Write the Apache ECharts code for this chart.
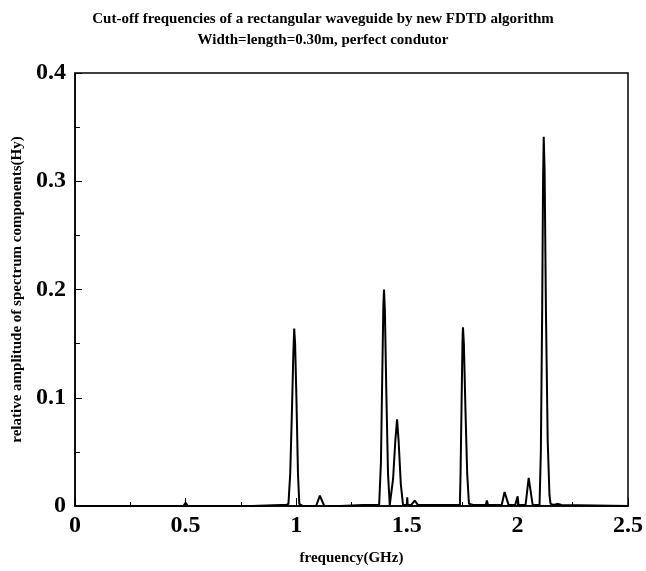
<!DOCTYPE html>
<html>
<head>
<meta charset="utf-8">
<script src="https://cdn.jsdelivr.net/npm/echarts@6/dist/echarts.min.js"></script>
<style>html,body{margin:0;padding:0;background:#fff;}#c{width:646px;height:571px;}</style>
</head>
<body>
<div id="c"></div>
<script>
const titleLines = ["Cut-off frequencies of a rectangular waveguide by new FDTD algorithm", "Width=length=0.30m, perfect condutor"];
const xName = "frequency(GHz)";
const yName = "relative amplitude of spectrum components(Hy)";
const xTicks = [0, 0.5, 1, 1.5, 2, 2.5];
const yTicks = [0, 0.1, 0.2, 0.3, 0.4];

const freq = [0.00,0.20,0.49,0.50,0.51,0.80,0.93,0.955,0.965,
  0.973,0.981,0.987,0.991,0.995,1.001,1.008,1.014,1.02,1.03,
  1.090,1.107,1.127,1.20,1.30,1.36,
  1.375,1.383,1.389,1.394,1.397,1.401,1.407,1.415,1.423,
  1.429,1.438,1.448,1.456,1.463,1.473,1.483,
  1.500,1.502,1.504,1.52,1.536,1.55,1.60,1.70,1.740,
  1.743,1.748,1.752,1.754,1.758,1.765,1.773,1.781,
  1.80,1.857,1.862,1.867,1.90,1.929,1.942,1.960,1.99,2.001,2.005,2.037,2.051,2.069,
  2.100,2.106,2.112,2.116,2.119,2.123,2.129,2.137,2.145,2.150,2.165,2.18,2.20,2.50];
const amp = [0,0,0,0.003,0,0,0.001,0.001,0.002,
  0.03,0.09,0.14,0.164,0.15,0.10,0.03,0.002,0.001,0,
  0,0.0095,0,0,0.001,0.001,
  0.001,0.04,0.12,0.185,0.200,0.18,0.11,0.03,0.001,
  0.001,0.025,0.06,0.080,0.06,0.02,0.001,
  0.001,0.008,0.001,0.001,0.005,0.001,0.001,0.001,0.001,
  0.03,0.10,0.155,0.165,0.15,0.09,0.03,0.002,
  0.001,0.001,0.005,0.001,0.001,0.001,0.013,0.001,0.001,0.009,0.001,0.001,0.026,0.001,
  0.001,0.05,0.18,0.30,0.341,0.31,0.18,0.06,0.01,0.002,0.001,0.002,0.001,0];

const data = freq.map((f, i) => [f, amp[i]]);
const serif = "'Liberation Serif', 'DejaVu Serif', serif";

const chart = echarts.init(document.getElementById('c'));
chart.setOption({
  backgroundColor: '#fff',
  animation: false,
  title: {
    text: titleLines.join('\n'),
    left: 'center',
    top: 4,
    textStyle: { fontFamily: serif, fontWeight: 'bold', fontSize: 15, lineHeight: 21, color: '#000' }
  },
  grid: { left: 75, right: 17, top: 73, bottom: 63, show: true, borderColor: '#000', borderWidth: 1.5, backgroundColor: 'transparent' },
  xAxis: {
    type: 'value', min: xTicks[0], max: xTicks[xTicks.length - 1], interval: 0.5,
    name: xName, nameLocation: 'middle', nameGap: 45,
    nameTextStyle: { fontFamily: serif, fontWeight: 'bold', fontSize: 15, color: '#000' },
    axisLine: { show: true, lineStyle: { color: '#000', width: 1.5 } },
    axisTick: { show: true, inside: true, length: 8, lineStyle: { color: '#000' } },
    minorTick: { show: true, splitNumber: 2, length: 4, lineStyle: { color: '#000' } },
    splitLine: { show: false },
    axisLabel: { fontFamily: serif, fontWeight: 'bold', fontSize: 24, color: '#000', margin: 8,
      formatter: v => xTicks.includes(+v.toFixed(2)) ? String(+v.toFixed(2)) : '' }
  },
  yAxis: {
    type: 'value', min: yTicks[0], max: yTicks[yTicks.length - 1], interval: 0.1,
    name: yName, nameLocation: 'middle', nameGap: 48,
    nameTextStyle: { fontFamily: serif, fontWeight: 'bold', fontSize: 15, color: '#000' },
    axisLine: { show: true, lineStyle: { color: '#000', width: 1.5 } },
    axisTick: { show: true, inside: true, length: 7, lineStyle: { color: '#000' } },
    minorTick: { show: true, splitNumber: 2, length: 5, lineStyle: { color: '#000' } },
    splitLine: { show: false },
    axisLabel: { fontFamily: serif, fontWeight: 'bold', fontSize: 24, color: '#000', margin: 9,
      formatter: v => String(+v.toFixed(2)) }
  },
  series: [{
    type: 'line', data: data, showSymbol: false, symbol: 'none',
    lineStyle: { color: '#000', width: 2 }
  }]
});
</script>
</body>
</html>
